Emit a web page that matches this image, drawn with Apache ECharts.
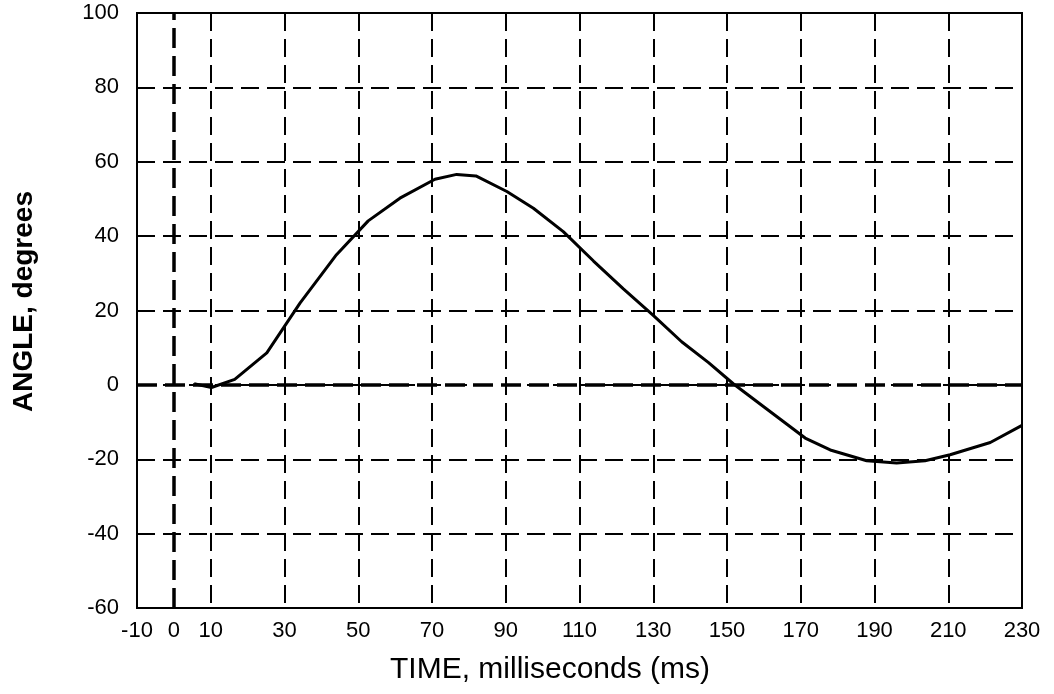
<!DOCTYPE html>
<html>
<head>
<meta charset="utf-8">
<script src="https://cdn.jsdelivr.net/npm/echarts@6/dist/echarts.min.js"></script>
<style>
html,body{margin:0;padding:0;background:#fff;}
#chart{width:1054px;height:694px;}
</style>
</head>
<body>
<div id="chart"></div>
<script>
var time = [5.5, 10.2, 16.5, 25.2, 34.2, 44.1, 52.7, 61.3, 70.8, 76.7, 81.9, 90.3, 97.5, 105.6, 113.8, 121.9, 130.0, 137.7, 145.0, 151.7, 160.5, 171.2, 178.0, 187.9, 196.0, 203.7, 210.5, 221.4, 230.0];
var angle = [0.3, -0.7, 1.5, 8.6, 22.0, 35.0, 44.1, 50.2, 55.3, 56.6, 56.2, 52.0, 47.5, 41.2, 33.3, 25.8, 18.7, 11.6, 6.0, 0.3, -6.3, -14.3, -17.5, -20.4, -21.0, -20.4, -18.8, -15.5, -10.9];
var xTickLabels = [-10, 0, 10, 30, 50, 70, 90, 110, 130, 150, 170, 190, 210, 230];
var xTitle = 'TIME, milliseconds (ms)';
var yTitle = 'ANGLE, degrees';

var FONT = '"Liberation Sans", Arial, sans-serif';
var chart = echarts.init(document.getElementById('chart'), null, {renderer: 'canvas'});
var pts = time.map(function (t, i) { return [t, angle[i]]; });
chart.setOption({
  animation: false,
  backgroundColor: '#fff',
  grid: {left: 137, right: 32, top: 13, bottom: 86, show: true, borderColor: '#000', borderWidth: 2, containLabel: false},
  xAxis: {
    type: 'value', min: -10, max: 230, interval: 20,
    name: xTitle, nameLocation: 'middle', nameGap: 47,
    nameTextStyle: {fontFamily: FONT, fontSize: 30, color: '#000', padding: [0, 59, 0, 0]},
    axisLine: {show: false}, axisTick: {show: false},
    axisLabel: {customValues: xTickLabels, fontFamily: FONT, fontSize: 22, color: '#000', margin: 12},
    splitLine: {show: true, lineStyle: {color: '#000', width: 2, type: [18, 8]}}
  },
  yAxis: {
    type: 'value', min: -60, max: 100, interval: 20,
    name: yTitle, nameLocation: 'middle', nameGap: 99, nameRotate: 90,
    nameTextStyle: {fontFamily: FONT, fontSize: 28, fontWeight: 'bold', color: '#000', padding: [0, 0, 0, 18]},
    axisLine: {show: false}, axisTick: {show: false},
    axisLabel: {fontFamily: FONT, fontSize: 22, color: '#000', margin: 18},
    splitLine: {show: true, lineStyle: {color: '#000', width: 2, type: [18, 8]}}
  },
  series: [{
    type: 'line', data: pts, showSymbol: false, symbol: 'none', smooth: false,
    lineStyle: {color: '#000', width: 3},
    markLine: {
      silent: true, symbol: 'none', animation: false,
      label: {show: false},
      lineStyle: {color: '#000', width: 3.5, type: [20, 8]},
      data: [{xAxis: 0}, {yAxis: 0}]
    },
    z: 3
  }]
});
</script>
</body>
</html>
